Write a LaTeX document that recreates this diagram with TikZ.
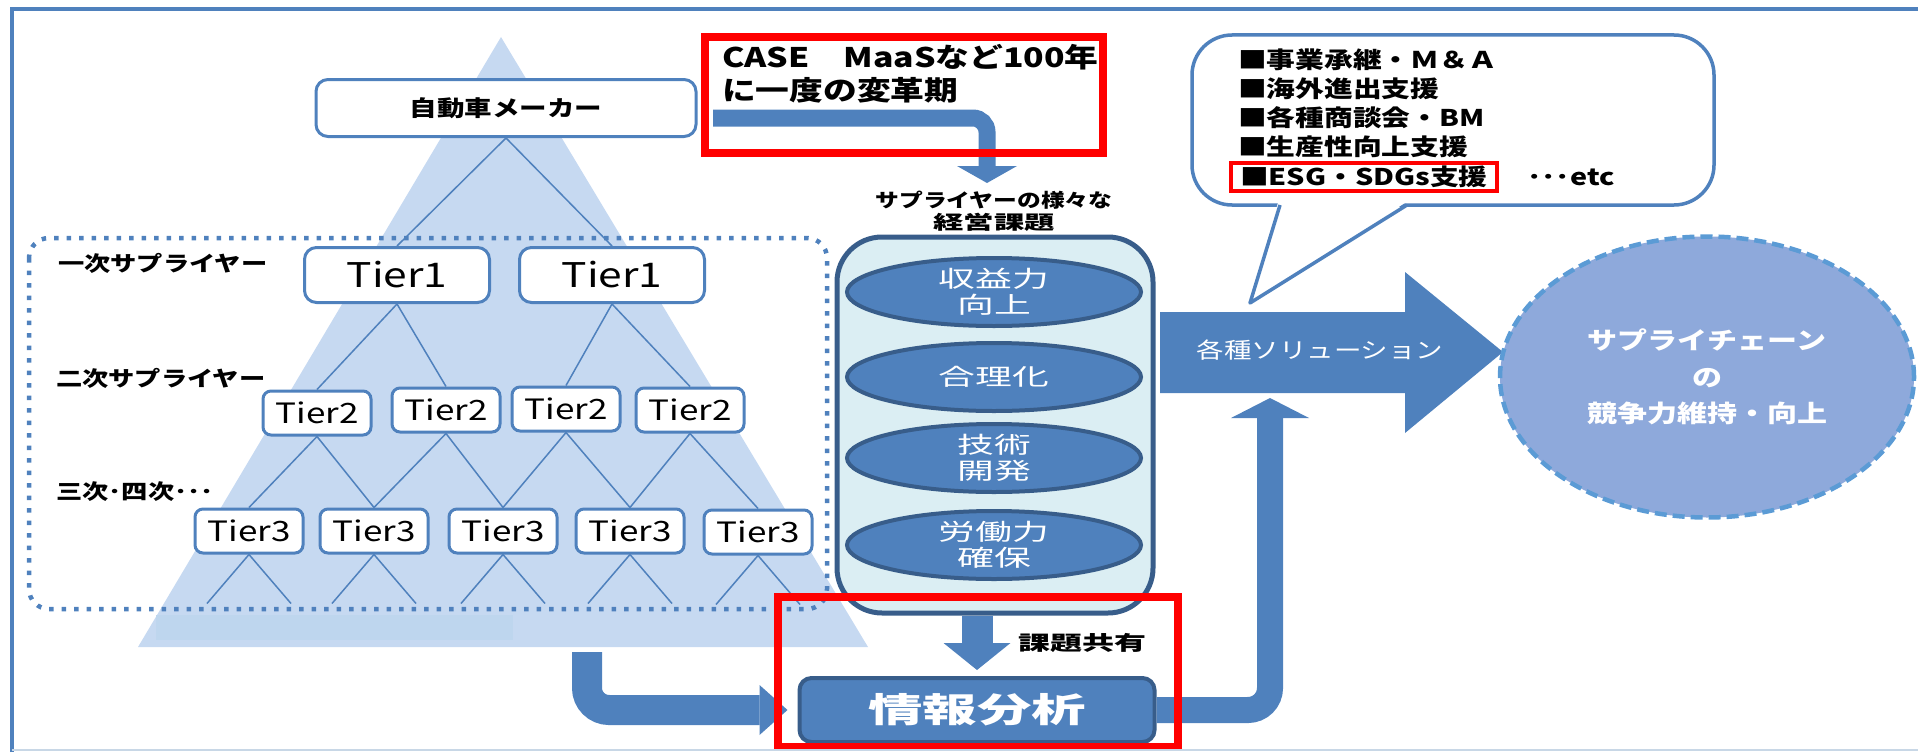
\documentclass[tikz,border=0pt]{standalone}
\usepackage{fontspec}
\setmainfont{Noto Sans CJK JP}
\newfontfamily\jp[FakeStretch=1.25]{Noto Sans CJK JP}
\newfontfamily\jpw[FakeStretch=1.6]{Noto Sans CJK JP}
\usepackage{tikz}
\usetikzlibrary{arrows.meta,shapes.geometric}
\usepackage{xcolor}
\definecolor{mainblue}{RGB}{79,129,189}
\definecolor{darkblue}{RGB}{56,93,138}
\definecolor{pyramid}{RGB}{198,217,241}
\definecolor{pyrband}{RGB}{190,214,238}
\definecolor{pillfill}{RGB}{219,238,243}
\definecolor{goalfill}{RGB}{142,169,219}
\definecolor{goalline}{RGB}{91,155,213}
\definecolor{framelight}{RGB}{200,215,230}

\begin{document}
\begin{tikzpicture}[x=1pt,y=-1pt,
	tbox/.style={draw=mainblue,line width=3pt,fill=white,rounded corners=8pt,inner sep=0pt},
	tierone/.style={tbox,minimum width=185pt,minimum height=55pt,rounded corners=12pt,font=\jp\fontsize{34}{34}\selectfont},
	tiertwo/.style={tbox,minimum width=108pt,minimum height=44pt,font=\jp\fontsize{28}{28}\selectfont},
	tline/.style={draw=mainblue,line width=1.5pt},
	lab/.style={inner sep=0pt,anchor=west,font=\jp\bfseries\fontsize{21}{25}\selectfont},
	issue/.style={ellipse,draw=darkblue,line width=4pt,fill=mainblue,minimum width=294pt,minimum height=68pt,inner sep=0pt,text=white,align=center,font=\jpw\fontsize{23}{26}\selectfont},
	barrow/.style={draw=mainblue},
	redline/.style={draw=red,line width=8pt},
	bubtxt/.style={inner sep=0pt,anchor=west,font=\jp\bfseries\fontsize{23}{23}\selectfont}
]
\useasboundingbox (0,0) rectangle (1918,752);

% pyramid
\fill[pyramid] (501,37) -- (868,647) -- (138,647) -- cycle;
\fill[pyrband] (156,615) rectangle (513,640);

\node[tbox,minimum width=380pt,minimum height=57pt,rounded corners=12pt,font=\jp\bfseries\fontsize{22}{22}\selectfont] (mk) at (506,108) {自動車メーカー};
\node[tierone] (t1a) at (397,275) {Tier1};
\node[tierone] (t1b) at (612,275) {Tier1};
\node[tiertwo] (t2a) at (317,413) {Tier2};
\node[tiertwo] (t2b) at (446,410) {Tier2};
\node[tiertwo] (t2c) at (566,409) {Tier2};
\node[tiertwo] (t2d) at (690,410) {Tier2};
\node[tiertwo] (t3a) at (249,531) {Tier3};
\node[tiertwo] (t3b) at (374,531) {Tier3};
\node[tiertwo] (t3c) at (503,531) {Tier3};
\node[tiertwo] (t3d) at (630,531) {Tier3};
\node[tiertwo] (t3e) at (758,532) {Tier3};

\draw[tline] (mk.south) -- (t1a.north);
\draw[tline] (mk.south) -- (t1b.north);
\draw[tline] (t1a.south) -- (t2a.north);
\draw[tline] (t1a.south) -- (t2b.north);
\draw[tline] (t1b.south) -- (t2c.north);
\draw[tline] (t1b.south) -- (t2d.north);
\draw[tline] (t2a.south) -- (t3a.north);
\draw[tline] (t2a.south) -- (t3b.north);
\draw[tline] (t2b.south) -- (t3b.north);
\draw[tline] (t2b.south) -- (t3c.north);
\draw[tline] (t2c.south) -- (t3c.north);
\draw[tline] (t2c.south) -- (t3d.north);
\draw[tline] (t2d.south) -- (t3d.north);
\draw[tline] (t2d.south) -- (t3e.north);
\foreach \t in {t3a,t3b,t3c,t3d,t3e}
	\draw[tline] (\t.south) -- ++(-42,49) (\t.south) -- ++(42,49);

\draw[mainblue,line width=4.5pt,dash pattern=on 4.5pt off 8pt,rounded corners=20pt] (29,238) rectangle (827,609);

\node[lab] (l1) at (58,263) {一次サプライヤー};
\node[lab] (l2) at (56,378) {二次サプライヤー};
\node[lab] (l3) at (56,492) {三次･四次･･･};

% CASE
\coordinate (caseA) at (713,118);
\coordinate (caseB) at (987,183);
\draw[barrow,line width=17pt,rounded corners=14pt,-{Triangle[width=60pt,length=17pt,line width=0pt]}] (caseA) -| (caseB);
\node[anchor=north west,inner sep=0pt,align=left,font=\jp\bfseries\fontsize{27}{33}\selectfont] (casetxt) at (722,44) {CASE　MaaSなど100年\\に一度の変革期};
\draw[redline] (705,37) rectangle (1103,153);

% issues
\node[inner sep=0pt,align=center,font=\jp\bfseries\fontsize{19}{22}\selectfont] (pilllab) at (994,211) {サプライヤーの様々な\\{\jpw 経営課題}};
\node[draw=darkblue,line width=5pt,fill=pillfill,rounded corners=45pt,minimum width=316pt,minimum height=376pt] (pill) at (995,425) {};
\node[issue] (i1) at (994,292) {収益力\\向上};
\node[issue] (i2) at (994,377) {合理化};
\node[issue] (i3) at (994,458) {技術\\開発};
\node[issue] (i4) at (994,545) {労働力\\確保};

\node[draw=darkblue,line width=4pt,fill=mainblue,rounded corners=12pt,minimum width=355pt,minimum height=64pt,text=white,font=\jpw\bfseries\fontsize{34}{34}\selectfont] (info) at (977,710) {情報分析};
\node[inner sep=0pt,font=\jpw\bfseries\fontsize{20}{20}\selectfont] (share) at (1082,643) {課題共有};

\draw[barrow,line width=31pt,-{Triangle[width=67pt,length=27pt,line width=0pt]}] (pill.south -| info.north) -- ([yshift=6pt]info.north);
\coordinate (triL) at (587,652);
\draw[barrow,line width=30pt,rounded corners=22pt,-{Triangle[width=50pt,length=28pt,line width=0pt]}] (triL) |- ([xshift=-10pt]info.west);
\coordinate (solB) at (1270,398);
\draw[barrow,line width=26pt,rounded corners=22pt,-{Triangle[width=78pt,length=20pt,line width=0pt]}] (info.east) -| (solB);
\draw[redline] (778,597) rectangle (1178,747);

% solutions
\fill[mainblue] (1160,312) -- (1405,312) -- (1405,272) -- (1503,352) -- (1405,433) -- (1405,393) -- (1160,393) -- cycle;
\node[text=white,inner sep=0pt,font=\jp\fontsize{22}{22}\selectfont] (sol) at (1320,350) {各種ソリューション};

\node[draw=mainblue,line width=3.5pt,fill=white,rounded corners=40pt,minimum width=522pt,minimum height=170pt] (bub) at (1453,120) {};
\fill[white] (1279,199) -- (1411,199) -- (1250,303) -- cycle;
\draw[mainblue,line width=3.5pt,line join=round] (1280,205) -- (1250,303) -- (1407,205);
\node[bubtxt] (s1) at (1238,60) {■事業承継・Ｍ＆Ａ};
\node[bubtxt] (s2) at (1238,89) {■海外進出支援};
\node[bubtxt] (s3) at (1238,118) {■各種商談会・BM};
\node[bubtxt] (s4) at (1238,147) {■生産性向上支援};
\node[bubtxt,draw=red,line width=4pt,inner xsep=9pt,inner ysep=3pt] (s5) at (1229,177) {■ESG・SDGs支援};
\node[bubtxt] (s6) at (1527,177) {･･･etc};

\node[ellipse,fill=goalfill,draw=goalline,line width=4.5pt,dash pattern=on 12pt off 6pt,minimum width=414pt,minimum height=281pt,text=white,align=center,font=\jp\bfseries\fontsize{24}{36.5}\selectfont] (goal) at (1707,377) {サプライチェーン\\の\\競争力維持・向上};

% frame
\draw[mainblue,line width=4pt] (12,752) -- (12,9) -- (1918,9);
\draw[framelight,line width=1.5pt] (12,750) -- (1918,750);
\end{tikzpicture}
\end{document}
